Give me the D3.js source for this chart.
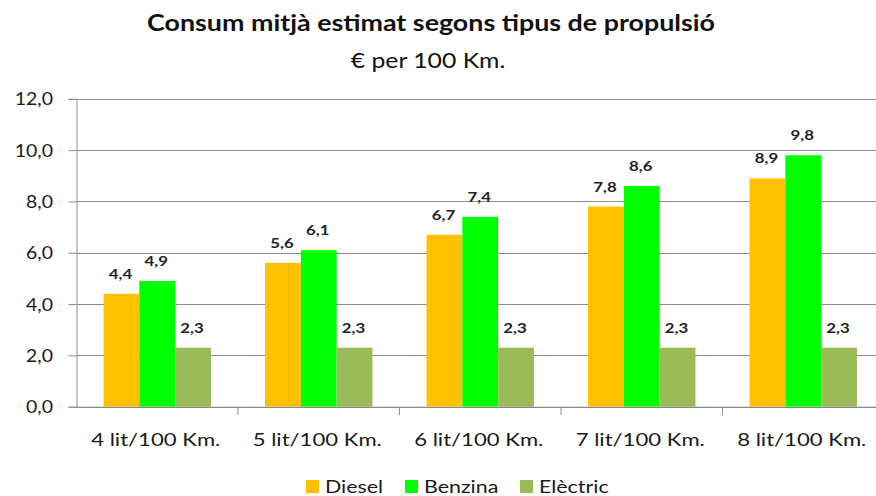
<!DOCTYPE html>
<html><head><meta charset="utf-8">
<script src="https://cdn.jsdelivr.net/npm/d3@7"></script>
<style>body{margin:0;background:#fff}svg{display:block;font-family:Lato,"Open Sans",sans-serif}</style>
</head><body>
<svg id="c" width="876" height="496"></svg>
<script>
const categories = ["4 lit/100 Km.","5 lit/100 Km.","6 lit/100 Km.","7 lit/100 Km.","8 lit/100 Km."];
const seriesNames = ["Diesel","Benzina","Elèctric"];
const diesel = [4.4,5.6,6.7,7.8,8.9];
const benzina = [4.9,6.1,7.4,8.6,9.8];
const electric = [2.3,2.3,2.3,2.3,2.3];
const yTicks = [0,2,4,6,8,10,12];
const colors = ["#FFC000","#00FF00","#9BBB59"];
const series = [diesel, benzina, electric];

const svg = d3.select("#c");
const fmt = v => v.toFixed(1).replace(".", ",");

// stretched text helper
function stext(parent, x, y, sx, txt, opts) {
  const g = parent.append("g").attr("transform", `translate(${x},${y}) scale(${sx},1)`);
  const t = g.append("text").attr("x",0).attr("y",0)
    .attr("text-anchor", opts.anchor || "middle")
    .attr("font-size", opts.size + "px")
    .attr("font-weight", opts.weight || "normal")
    .attr("fill", opts.fill || "#1a1a1a")
    .text(txt);
  return t;
}

const x = d3.scaleBand().domain(categories).range([76.5, 884]).paddingInner(0).paddingOuter(0);
const y = d3.scaleLinear().domain([0,12]).range([406.7, 98.8]);
const bw = 35.8;
const xs = d3.scaleBand().domain(seriesNames).range([0, bw*3]);

// gridlines
svg.append("g").selectAll("line").data(yTicks).join("line")
  .attr("x1", 76.5).attr("x2", 884)
  .attr("y1", d => Math.round(y(d))+0.5).attr("y2", d => Math.round(y(d))+0.5)
  .attr("stroke", "#8c8c8c").attr("stroke-width", 1);

// y axis
const yAxis = svg.append("g").attr("transform","translate(76.5,0)")
  .call(d3.axisLeft(y).tickValues(yTicks).tickFormat("").tickSize(8));
yAxis.select(".domain").attr("stroke","#8c8c8c");
yAxis.selectAll(".tick line").attr("stroke","#8c8c8c");
const yl = svg.append("g");
yTicks.forEach(t => stext(yl, 53, y(t) + 6.5, 1.08, fmt(t), {size:18, anchor:"end"}));

// x axis
const xAxis = svg.append("g").attr("transform","translate(0,406.7)")
  .call(d3.axisBottom(x).tickSize(0).tickFormat(""));
xAxis.select(".domain").attr("stroke","#8c8c8c");
svg.append("g").selectAll("line").data(categories.slice(1)).join("line")
  .attr("x1", d => x(d)).attr("x2", d => x(d))
  .attr("y1", 406.7).attr("y2", 415).attr("stroke","#8c8c8c");
const xl = svg.append("g");
categories.forEach(c => stext(xl, x(c) + x.bandwidth()/2 - 1.5, 446, 1.23, c, {size:18}));

// bars
series.forEach((vals, si) => {
  const g = svg.append("g");
  g.selectAll("rect").data(vals).join("rect")
    .attr("x", (d,i) => x(categories[i]) + x.bandwidth()/2 - bw*1.5 + xs(seriesNames[si]))
    .attr("width", xs.bandwidth())
    .attr("y", d => y(d)).attr("height", d => y(0) - y(d))
    .attr("fill", colors[si]);
  const lg = svg.append("g");
  vals.forEach((d,i) => {
    const cx = x(categories[i]) + x.bandwidth()/2 - bw*1.5 + xs(seriesNames[si]) + xs.bandwidth()/2 - 1;
    stext(lg, cx, y(d) - 15, 1.2, fmt(d), {size:14, weight:"bold", fill:"#222"});
  });
});

// title
stext(svg, 431, 31, 1.22, "Consum mitjà estimat segons tipus de propulsió", {size:22, weight:"bold", fill:"#111"});
stext(svg, 428, 68, 1.18, "€ per 100 Km.", {size:21, fill:"#111"});

// legend
const legX = [306, 405, 520];
seriesNames.forEach((s,i) => {
  svg.append("rect").attr("x", legX[i]).attr("y", 480).attr("width",13).attr("height",13).attr("fill",colors[i]);
  stext(svg, legX[i] + 19, 493, 1.19, s, {size:18, anchor:"start"});
});
</script>
</body></html>
